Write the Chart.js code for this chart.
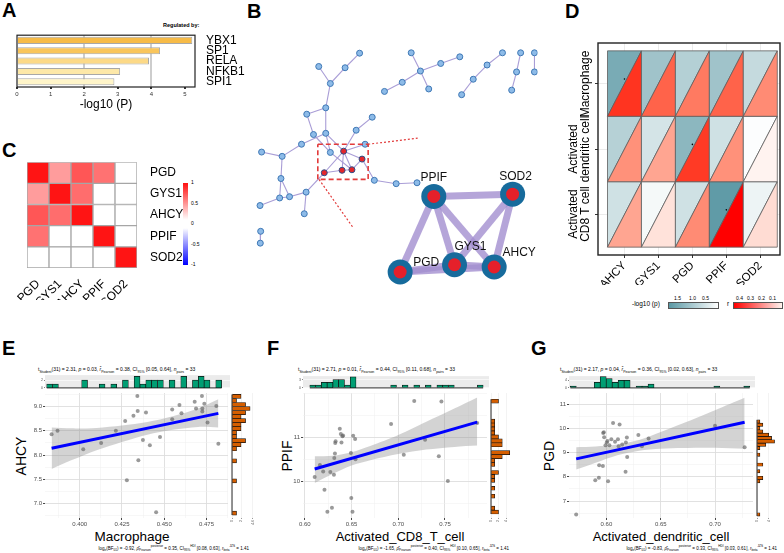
<!DOCTYPE html>
<html>
<head>
<meta charset="utf-8">
<title>Figure</title>
<script src="https://cdn.jsdelivr.net/npm/chart.js@4.4.0/dist/chart.umd.min.js"></script>
<style>
  body { margin:0; width:784px; height:553px; position:relative; overflow:hidden; background:#fff;
         font-family:'Liberation Sans', Arial, sans-serif; color:#000; }
  canvas { position:absolute; }
  .t { position:absolute; white-space:nowrap; line-height:1; }
  .pl { position:absolute; font-weight:bold; font-size:20px; line-height:1; }
  .sm sub, .sm sup { font-size:70%; line-height:0; }
  .rot { position:absolute; text-align:center; transform:rotate(-90deg); white-space:nowrap; }
</style>
</head>
<body>
<div class="pl" style="left:2px;top:0px">A</div>
<div class="pl" style="left:247px;top:1px">B</div>
<div class="pl" style="left:2px;top:140px">C</div>
<div class="pl" style="left:565px;top:1px">D</div>
<div class="pl" style="left:2px;top:338px">E</div>
<div class="pl" style="left:267px;top:338px">F</div>
<div class="pl" style="left:531px;top:338px">G</div>

<div class="t" style="left:163px;top:23px;font-size:5.5px;font-weight:bold">Regulated by:</div>

<!-- C colour bar -->
<div style="position:absolute;left:183px;top:183px;width:5px;height:82px;background:linear-gradient(#ff1010,#fff 45%,#fff 55%,#0000ff)"></div>
<div class="t" style="left:191px;top:180px;font-size:5px">1</div>
<div class="t" style="left:191px;top:201px;font-size:5px">0.5</div>
<div class="t" style="left:191px;top:221px;font-size:5px">0</div>
<div class="t" style="left:191px;top:242px;font-size:5px">-0.5</div>
<div class="t" style="left:191px;top:262px;font-size:5px">-1</div>

<!-- D legend -->
<div class="t" style="left:632px;top:301px;font-size:6.5px">-log10 (p)</div>
<div style="position:absolute;left:668px;top:302px;width:49px;height:5px;border:0.5px solid #555;background:linear-gradient(to right,#5a98a4,#ffffff)"></div>
<div class="t" style="left:674px;top:296px;font-size:5px">1.5</div>
<div class="t" style="left:689px;top:296px;font-size:5px">1.0</div>
<div class="t" style="left:702px;top:296px;font-size:5px">0.5</div>
<div class="t" style="left:727px;top:301px;font-size:6.5px">r</div>
<div style="position:absolute;left:733px;top:302px;width:48px;height:5px;border:0.5px solid #555;background:linear-gradient(to right,#ff0000,#fff4ef)"></div>
<div class="t" style="left:736px;top:296px;font-size:5px">0.4</div>
<div class="t" style="left:747px;top:296px;font-size:5px">0.3</div>
<div class="t" style="left:758px;top:296px;font-size:5px">0.2</div>
<div class="t" style="left:769px;top:296px;font-size:5px">0.1</div>

<!-- E/F/G texts -->
<div class="t sm" style="left:38px;top:367px;font-size:5px">t<sub>Student</sub>(31) = 2.31, <i>p</i> = 0.03, <i>r&#770;</i><sub>Pearson</sub> = 0.38, CI<sub>95%</sub> [0.05, 0.64], <i>n</i><sub>pairs</sub> = 33</div>
<div class="t sm" style="left:298px;top:367px;font-size:5px">t<sub>Student</sub>(31) = 2.71, <i>p</i> = 0.01, <i>r&#770;</i><sub>Pearson</sub> = 0.44, CI<sub>95%</sub> [0.11, 0.68], <i>n</i><sub>pairs</sub> = 33</div>
<div class="t sm" style="left:560px;top:367px;font-size:5px">t<sub>Student</sub>(31) = 2.17, <i>p</i> = 0.04, <i>r&#770;</i><sub>Pearson</sub> = 0.36, CI<sub>95%</sub> [0.02, 0.63], <i>n</i><sub>pairs</sub> = 33</div>

<div class="t sm" style="right:535px;top:546px;font-size:4.5px">log<sub>e</sub>(BF<sub>01</sub>) = -0.92, <i>&rho;&#770;</i><sub>Pearson</sub><sup>posterior</sup> = 0.35, CI<sub>95%</sub><sup>HDI</sup> [0.08, 0.63], <i>r</i><sub>beta</sub><sup>JZS</sup> = 1.41</div>
<div class="t sm" style="right:275px;top:546px;font-size:4.5px">log<sub>e</sub>(BF<sub>01</sub>) = -1.65, <i>&rho;&#770;</i><sub>Pearson</sub><sup>posterior</sup> = 0.40, CI<sub>95%</sub><sup>HDI</sup> [0.10, 0.65], <i>r</i><sub>beta</sub><sup>JZS</sup> = 1.41</div>
<div class="t sm" style="right:7px;top:546px;font-size:4.5px">log<sub>e</sub>(BF<sub>01</sub>) = -0.83, <i>&rho;&#770;</i><sub>Pearson</sub><sup>posterior</sup> = 0.33, CI<sub>95%</sub><sup>HDI</sup> [0.03, 0.61], <i>r</i><sub>beta</sub><sup>JZS</sup> = 1.41</div>

<div class="t" style="left:82px;top:530px;width:100px;text-align:center;font-size:13.5px">Macrophage</div>
<div class="t" style="left:330px;top:530px;width:140px;text-align:center;font-size:13px">Activated_CD8_T_cell</div>
<div class="t" style="left:586px;top:530px;width:150px;text-align:center;font-size:13px">Activated_dendritic_cell</div>
<div class="rot" style="left:-9px;top:449px;width:60px;font-size:14px;line-height:14px">AHCY</div>
<div class="rot" style="left:257px;top:449px;width:60px;font-size:14px;line-height:14px">PPIF</div>
<div class="rot" style="left:519px;top:449px;width:60px;font-size:14px;line-height:14px">PGD</div>

<script>
// ---------- data ----------
// A: enriched regulators
const tfGenes = ['YBX1', 'SP1', 'RELA', 'NFKB1', 'SPI1'];
const tfLogP = [5.22, 4.26, 3.93, 3.07, 2.90];
const tfColors = ['#f7bb47', '#f9c55b', '#fcd987', '#fde8a8', '#fff5c9'];
const tfTicks = [0, 1, 2, 3, 4, 5];

// B: network layout (page coordinates)
const netX = [357, 341.3, 312.7, 325.3, 320.3, 299.7, 307, 320.3, 370.7, 353.3, 294, 250.7, 273, 325.3, 339.7, 363, 359.7, 318.7, 338, 348.7, 373,
  271.7, 270.3, 281, 299, 249, 297, 249.7, 249.3, 396.7, 419.3,
  413, 423, 445, 465.7, 432, 403.3, 384, 512, 495.3, 480.3, 467.7, 531.7, 527.3, 522, 546.7, 546.7];
const netY = [42.7, 58.7, 57.3, 76, 102.7, 109.7, 132, 130.7, 113, 127.3, 142.7, 151.3, 156, 151.7, 150.3, 142.7, 159, 174, 171.3, 170.7, 182.3,
  180.3, 201.7, 200.3, 195.3, 210, 219, 238.3, 251.3, 186, 185,
  42.3, 62.3, 54, 46.7, 82, 74.7, 84.7, 42.3, 55.7, 71.3, 88.3, 42.3, 63.3, 83.3, 42.3, 63.3];
const netRed = [14, 16, 17, 18, 19];
const netEdges = [[0,1],[1,3],[2,3],[3,4],[4,5],[4,7],[5,6],[6,13],[7,13],[7,14],[10,7],[10,12],[11,12],[12,21],
  [21,22],[21,23],[22,23],[22,25],[23,24],[24,26],[24,17],[17,14],[17,18],[14,18],[14,19],[14,16],[14,15],[14,9],
  [9,8],[16,19],[18,19],[13,19],[16,20],[20,29],[29,30],[27,28],
  [31,32],[32,33],[33,34],[32,35],[32,36],[36,37],[38,39],[39,40],[40,41],[42,43],[43,44],[45,46]];
const zoomBox = [311.7, 142.7, 366.3, 181.3];
const hubGenes = ['PPIF', 'SOD2', 'GYS1', 'AHCY', 'PGD'];
const hubX = [437.5, 523, 460, 503, 401];
const hubY = [200, 197.5, 275, 277.5, 283];
const hubEdges = [[0,1],[0,4],[0,2],[0,3],[1,2],[1,3],[4,2],[2,3],[4,3]];

// C: correlation matrix
const corrGenes = ['PGD', 'GYS1', 'AHCY', 'PPIF', 'SOD2'];
const corrMatrix = [
  [1.00, 0.42, 0.72, 0.60, 0.00],
  [0.42, 1.00, 0.62, 0.00, 0.00],
  [0.72, 0.62, 1.00, 0.00, 0.00],
  [0.60, 0.00, 0.00, 1.00, 0.00],
  [0.00, 0.00, 0.00, 0.00, 1.00]];

// D: immune cell correlation (rows bottom to top)
const cellTypes = [['Activated', 'CD8 T cell'], ['Activated', 'dendritic cell'], ['', 'Macrophage']];
const dGenes = ['AHCY', 'GYS1', 'PGD', 'PPIF', 'SOD2'];
const negLogP = [
  [0.57, 0.12, 0.58, 1.90, 0.21],
  [0.88, 0.52, 1.38, 0.58, 0.03],
  [1.60, 1.14, 0.90, 1.14, 0.70]];
const corrR = [
  [0.155, 0.05, 0.20, 0.44, 0.06],
  [0.19, 0.155, 0.34, 0.19, 0.02],
  [0.35, 0.27, 0.23, 0.27, 0.20]];
const sigCol = [0, 2, 3], sigRow = [2, 1, 0];

// E: Macrophage vs AHCY
const macX = [0.3834, 0.3869, 0.4021, 0.4127, 0.4214, 0.4269, 0.4279, 0.4318, 0.4341, 0.4343, 0.4347, 0.4374, 0.4392, 0.4415, 0.4452,
  0.4475, 0.4547, 0.4547, 0.4590, 0.4602, 0.4680, 0.4688, 0.4723, 0.4725, 0.4725, 0.4737, 0.4756, 0.4808, 0.4820];
const ahcyY = [8.43, 8.50, 8.12, 8.25, 8.50, 8.70, 7.48, 8.81, 9.22, 8.91, 7.89, 8.31, 8.88, 8.20, 6.82,
  8.37, 8.74, 8.94, 9.03, 8.86, 9.10, 8.96, 9.22, 8.96, 8.90, 9.06, 8.67, 9.01, 8.23];
const eFitX = [0.3834, 0.4820], eFitY = [8.14, 8.86];
const eCiX = [0.3834, 0.395, 0.41, 0.425, 0.44, 0.455, 0.47, 0.4820];
const eCiHi = [8.57, 8.55, 8.56, 8.61, 8.68, 8.80, 8.96, 9.15];
const eCiLo = [7.71, 7.89, 8.10, 8.27, 8.42, 8.52, 8.58, 8.57];
const eTopCounts = [1,1,0,0,0,0,2,0,0,1, 0,1,0,2,0,3,1,2,2,2, 0,2,0,3,0,2,3,2,0,2];
const eRightCounts = [1,0,0,0,0,0,0,0,1,0, 0,0,0,1,0,0,1,2,3,1, 1,2,2,3,2,3,4,3,1,2];
const eXTicks = [0.400, 0.425, 0.450, 0.475], eYTicks = [7.0, 7.5, 8.0, 8.5, 9.0];

// F: Activated CD8 T cell vs PPIF
const cd8X = [0.6105, 0.6161, 0.6196, 0.6210, 0.6241, 0.6273, 0.6290, 0.6311, 0.6315, 0.6322, 0.6325, 0.6329, 0.6374, 0.6385, 0.6392,
  0.6402, 0.6409, 0.6493, 0.6497, 0.6510, 0.6517, 0.6538, 0.6542, 0.6923, 0.7059, 0.7171, 0.7287, 0.7434, 0.7462, 0.7531, 0.7845];
const ppifY = [10.10, 10.37, 10.22, 9.81, 9.31, 10.21, 9.40, 10.15, 10.53, 10.63, 10.87, 10.91, 11.19, 11.07, 10.88,
  11.02, 11.04, 10.64, 9.62, 9.31, 11.03, 10.96, 10.50, 11.30, 10.60, 11.82, 10.94, 10.57, 11.81, 10.01, 11.32];
const fFitX = [0.6105, 0.7845], fFitY = [10.28, 11.34];
const fCiX = [0.6105, 0.63, 0.65, 0.67, 0.70, 0.73, 0.76, 0.7845];
const fCiHi = [10.57, 10.58, 10.66, 10.80, 11.05, 11.35, 11.65, 11.90];
const fCiLo = [9.96, 10.17, 10.36, 10.48, 10.62, 10.72, 10.78, 10.81];
const fTopCounts = [1,1,2,2,3,3,1,4,0,0, 0,0,0,0,1,0,1,0,1,0, 1,0,1,1,1,0,0,0,0,1];
const fRightCounts = [2,1,0,0,1,0,1,0,1,1, 2,0,1,1,3,5,0,3,3,2, 1,1,1,1,0,0,0,0,2];
const fXTicks = [0.60, 0.65, 0.70, 0.75], fYTicks = [10, 11];

// G: Activated dendritic cell vs PGD
const dcX = [0.5721, 0.5897, 0.5930, 0.5933, 0.5967, 0.5970, 0.5976, 0.5979, 0.5991, 0.6003, 0.6009, 0.6015, 0.6027, 0.6045, 0.6061,
  0.6079, 0.6106, 0.6112, 0.6121, 0.6145, 0.6176, 0.6179, 0.6188, 0.6191, 0.6294, 0.6327, 0.6388, 0.7000, 0.7273];
const pgdY = [6.44, 7.86, 7.96, 8.48, 8.45, 9.81, 9.84, 9.63, 9.30, 9.42, 9.48, 7.82, 9.30, 9.55, 10.22,
  9.45, 9.55, 9.26, 10.16, 9.33, 8.21, 9.42, 9.62, 8.82, 9.73, 9.26, 9.58, 10.11, 9.22];
const gFitX = [0.5721, 0.7273], gFitY = [8.74, 10.25];
const gCiX = [0.5721, 0.59, 0.61, 0.63, 0.65, 0.67, 0.70, 0.7273];
const gCiHi = [9.22, 9.25, 9.33, 9.52, 9.85, 10.20, 10.75, 11.26];
const gCiLo = [8.30, 8.58, 8.89, 9.08, 9.16, 9.19, 9.20, 9.16];
const gTopCounts = [1,0,0,0,3,6,5,3,4,4, 0,1,1,2,0,0,0,0,0,0, 0,0,0,0,1,0,0,0,0,1];
const gRightCounts = [1,0,0,0,0,0,0,0,0,0, 1,2,0,1,0,2,0,0,1,0, 1,3,6,5,4,2,1,2,1];
const gXTicks = [0.60, 0.65, 0.70], gYTicks = [7, 8, 9, 10, 11];

// ---------- helpers ----------
Chart.defaults.font.family = "'Liberation Sans', Arial, sans-serif";
Chart.defaults.color = '#000';
Chart.defaults.animation = false;
Chart.defaults.plugins.legend.display = false;
Chart.defaults.plugins.tooltip.enabled = false;

function mkCanvas(x, y, w, h) {
  const c = document.createElement('canvas');
  c.width = w; c.height = h;
  c.style.left = x + 'px'; c.style.top = y + 'px';
  c.style.width = w + 'px'; c.style.height = h + 'px';
  document.body.appendChild(c);
  return c;
}
const fit = n => s => { if (s.isHorizontal()) s.height = n; else s.width = n; };
const zip = (xs, ys) => xs.map((x, i) => ({x, y: ys[i]}));
const setTicks = vals => ax => { ax.ticks = vals.map(v => ({value: v})); };
const frame = (color, lw) => ({
  id: 'frame',
  afterDatasetsDraw(chart) {
    const {ctx, chartArea: a} = chart;
    ctx.save(); ctx.strokeStyle = color; ctx.lineWidth = lw;
    ctx.strokeRect(a.left, a.top, a.right - a.left, a.bottom - a.top);
    ctx.restore();
  }
});
const panelBg = color => ({
  id: 'panelBg',
  beforeDraw(chart) {
    const {ctx, chartArea: a} = chart;
    ctx.save(); ctx.fillStyle = color;
    ctx.fillRect(a.left, a.top, a.right - a.left, a.bottom - a.top);
    ctx.restore();
  }
});
function tickSet(step, min, max) {
  const half = step / 2, out = [];
  for (let k = Math.ceil(min / half - 1e-9); k * half <= max + 1e-9; k++) out.push(+(k * half).toFixed(6));
  return out;
}
const isMajor = (v, major) => major.some(m => Math.abs(m - v) < 1e-6);

// ---------- A ----------
new Chart(mkCanvas(0, 25, 245, 87), {
  type: 'bar',
  data: {labels: tfGenes, datasets: [{data: tfLogP, backgroundColor: tfColors, borderColor: '#a8a8a8',
    borderWidth: 1, barPercentage: 0.68, categoryPercentage: 1}]},
  options: {
    responsive: false, indexAxis: 'y',
    layout: {padding: {left: 17, top: 7, right: 0, bottom: 0}},
    scales: {
      x: {min: 0, max: 5.3, afterFit: fit(25), afterBuildTicks: setTicks(tfTicks),
        grid: {color: c => (c.tick && (c.tick.value === 2 || c.tick.value === 4)) ? '#cdcdcd' : 'rgba(0,0,0,0)',
          lineWidth: 2, tickLength: 2, tickColor: '#333'},
        border: {display: false},
        ticks: {font: {size: 6}, color: '#333', padding: 2},
        title: {display: true, text: '-log10 (P)', font: {size: 12}, padding: 0}},
      y: {position: 'right', afterFit: fit(50), grid: {display: false}, border: {display: false},
        ticks: {font: {size: 12}, color: '#000', padding: 3, autoSkip: false}}
    }
  },
  plugins: [frame('#222', 1.2)]
});

// ---------- B ----------
const bSets = [];
netEdges.forEach(([a, b]) => bSets.push({type: 'line', data: [{x: netX[a], y: netY[a]}, {x: netX[b], y: netY[b]}],
  borderColor: '#a99dd6', borderWidth: 1.1, pointRadius: 0, order: 6}));
bSets.push({data: zip(netX, netY), pointRadius: 3,
  pointBackgroundColor: c => netRed.includes(c.dataIndex) ? '#e3262b' : '#8dbbe8',
  pointBorderColor: c => netRed.includes(c.dataIndex) ? '#2d4f8a' : '#3f78b5', pointBorderWidth: 1, order: 5});
const [bx0, by0, bx1, by1] = zoomBox;
bSets.push({type: 'line', data: [{x: bx0, y: by0}, {x: bx1, y: by0}, {x: bx1, y: by1}, {x: bx0, y: by1}, {x: bx0, y: by0}],
  borderColor: '#e23b3b', borderWidth: 1.6, borderDash: [5, 3], pointRadius: 0, order: 4});
bSets.push({type: 'line', data: [{x: bx1, y: by0}, {x: 420, y: 136}], borderColor: '#e23b3b', borderWidth: 1.2,
  borderDash: [2, 2], pointRadius: 0, order: 4});
bSets.push({type: 'line', data: [{x: bx0 + 1.3, y: by1}, {x: 349.3, y: 233.3}], borderColor: '#e23b3b', borderWidth: 1.2,
  borderDash: [2, 2], pointRadius: 0, order: 4});
hubEdges.forEach(([a, b]) => bSets.push({type: 'line', data: [{x: hubX[a], y: hubY[a]}, {x: hubX[b], y: hubY[b]}],
  borderColor: 'rgba(163,143,207,0.8)', borderWidth: 7, pointRadius: 0, order: 3}));
bSets.push({data: zip(hubX, hubY), pointRadius: 12.5, pointBackgroundColor: '#176b9c', pointBorderWidth: 0, order: 2});
bSets.push({data: zip(hubX, hubY), pointRadius: 6.5, pointBackgroundColor: '#e5202a', pointBorderWidth: 0, order: 1});
const hubLabelOff = [[0, -19], [3, -17], [16, -18], [25, -14], [26, -9]];
new Chart(mkCanvas(230, 20, 320, 280), {
  type: 'scatter',
  data: {datasets: bSets},
  options: {
    responsive: false, layout: {padding: 0},
    scales: {x: {min: 230, max: 550, display: false}, y: {min: 20, max: 300, reverse: true, display: false}}
  },
  plugins: [{
    id: 'hubLabels',
    afterDatasetsDraw(chart) {
      const {ctx, scales: {x, y}} = chart;
      ctx.save(); ctx.font = "12px 'Liberation Sans', Arial, sans-serif"; ctx.fillStyle = '#111';
      ctx.textAlign = 'center'; ctx.textBaseline = 'middle';
      hubGenes.forEach((g, i) => ctx.fillText(g, x.getPixelForValue(hubX[i]) + hubLabelOff[i][0],
        y.getPixelForValue(hubY[i]) + hubLabelOff[i][1]));
      ctx.restore();
    }
  }]
});

// ---------- C ----------
const heatRed = v => { const g = Math.round(255 - Math.max(0, v) * 235); return `rgb(255,${g},${g})`; };
new Chart(mkCanvas(10, 150, 175, 150), {
  type: 'bar',
  data: {labels: corrGenes, datasets: [4, 3, 2, 1, 0].map(k => ({
    data: corrGenes.map(() => 1), backgroundColor: corrMatrix[k].map(heatRed),
    borderColor: '#a6a6a6', borderWidth: 1, borderSkipped: false, barPercentage: 1, categoryPercentage: 1}))},
  options: {
    responsive: false,
    layout: {padding: {left: 17, top: 9, right: 0, bottom: 0}},
    scales: {
      x: {stacked: true, afterFit: fit(32), grid: {display: false}, border: {display: false},
        ticks: {font: {size: 12}, color: '#000', minRotation: 45, maxRotation: 45, padding: 1, autoSkip: false}},
      y: {stacked: true, position: 'right', min: 0, max: 5, afterFit: fit(48),
        afterBuildTicks: setTicks([0.5, 1.5, 2.5, 3.5, 4.5]),
        grid: {display: false}, border: {display: false},
        ticks: {font: {size: 12}, color: '#000', padding: 5, autoSkip: false, callback: v => corrGenes[4 - Math.floor(v)]}}
    }
  }
});

// ---------- D ----------
const mix = (a, b, f) => a.map((v, i) => Math.round(v + (b[i] - v) * f));
const blueCol = v => { const c = mix([255, 255, 255], [88, 150, 162], Math.min(1, v / 2)); return `rgb(${c})`; };
const redCol = v => { const f = Math.min(1, v / 0.44); return `rgb(255,${Math.round(255 * (1 - f))},${Math.round(255 * Math.pow(1 - f, 1.3))})`; };
const dChart = new Chart(mkCanvas(590, 35, 194, 250), {
  type: 'scatter',
  data: {datasets: [{data: zip(sigCol.map(c => c + 0.5), sigRow.map(r => r + 0.57)), pointRadius: 0.8,
    pointBackgroundColor: '#000', pointBorderWidth: 0}]},
  options: {
    responsive: false,
    layout: {padding: {left: 0, top: 8, right: 3, bottom: 0}},
    scales: {
      x: {min: -0.28, max: 5.08, afterFit: fit(30), afterBuildTicks: setTicks([0.5, 1.5, 2.5, 3.5, 4.5]),
        grid: {color: '#ebebeb', tickLength: 3, tickColor: '#333'}, border: {display: false},
        ticks: {font: {size: 11.5}, color: '#000', minRotation: 45, maxRotation: 45, padding: 1, autoSkip: false,
          callback: v => dGenes[Math.floor(v)]}},
      y: {min: -0.12, max: 3.12, afterFit: fit(8), afterBuildTicks: setTicks([0.5, 1.5, 2.5]),
        grid: {color: '#ebebeb', tickLength: 3, tickColor: '#333'}, border: {display: false},
        ticks: {callback: () => '', padding: 0}}
    }
  },
  plugins: [{
    id: 'triangles',
    beforeDatasetsDraw(chart) {
      const {ctx, scales: {x, y}} = chart;
      const tri = (pts, fill) => {
        ctx.beginPath(); ctx.moveTo(pts[0][0], pts[0][1]);
        pts.slice(1).forEach(p => ctx.lineTo(p[0], p[1])); ctx.closePath();
        ctx.fillStyle = fill; ctx.fill(); ctx.stroke();
      };
      ctx.save(); ctx.strokeStyle = '#5e5e5e'; ctx.lineWidth = 0.8;
      negLogP.forEach((row, r) => row.forEach((v, c) => {
        const x0 = x.getPixelForValue(c), x1 = x.getPixelForValue(c + 1);
        const y0 = y.getPixelForValue(r), y1 = y.getPixelForValue(r + 1);
        tri([[x0, y0], [x0, y1], [x1, y1]], blueCol(v));
        tri([[x0, y0], [x1, y0], [x1, y1]], redCol(corrR[r][c]));
      }));
      ctx.restore();
    }
  }, frame('#222', 1.4)]
});
cellTypes.forEach((lines, r) => {
  const cy = 35 + dChart.scales.y.getPixelForValue(r + 0.5);
  const d = document.createElement('div');
  d.className = 'rot';
  d.style.cssText = `left:${579 - 50}px;top:${cy - 12}px;width:100px;height:24px;font-size:12px;line-height:12px`;
  d.innerHTML = lines.map(s => s || '&nbsp;').join('<br>');
  document.body.appendChild(d);
});

// ---------- E/F/G ----------
function scatterPanel(p) {
  const [l, t, r, b] = p.area;
  const W = r - l, H = b - t;
  const xAll = tickSet(p.xStep, p.xMin, p.xMax), yAll = tickSet(p.yStep, p.yMin, p.yMax);
  const gridOpt = major => ({
    color: c => (c.tick && isMajor(c.tick.value, major)) ? '#dedede' : '#eeeeee',
    lineWidth: c => (c.tick && isMajor(c.tick.value, major)) ? 0.9 : 0.5,
    tickColor: c => (c.tick && isMajor(c.tick.value, major)) ? '#333' : 'rgba(0,0,0,0)',
    tickLength: 2
  });
  new Chart(mkCanvas(l - 22, t - 5, W + 24, H + 20), {
    type: 'scatter',
    data: {datasets: [
      {type: 'line', data: zip(p.ciX, p.ciHi), borderWidth: 0, pointRadius: 0, fill: '+1',
        backgroundColor: 'rgba(150,150,150,0.42)', tension: 0.3, order: 3},
      {type: 'line', data: zip(p.ciX, p.ciLo), borderWidth: 0, pointRadius: 0, fill: false, tension: 0.3, order: 3},
      {data: zip(p.x, p.y), pointRadius: 2, pointBackgroundColor: 'rgba(100,100,100,0.65)', pointBorderWidth: 0, order: 2},
      {type: 'line', data: zip(p.fitX, p.fitY), borderColor: '#0000ff', borderWidth: 3, pointRadius: 0, order: 1}
    ]},
    options: {
      responsive: false,
      layout: {padding: {left: 0, top: 5, right: 2, bottom: 0}},
      scales: {
        x: {type: 'linear', min: p.xMin, max: p.xMax, afterFit: fit(15), afterBuildTicks: setTicks(xAll),
          grid: gridOpt(p.xTicks), border: {display: false},
          ticks: {font: {size: 6}, color: '#4d4d4d', padding: 1, maxRotation: 0, autoSkip: false,
            callback: v => isMajor(v, p.xTicks) ? v.toFixed(p.xDig) : ''}},
        y: {min: p.yMin, max: p.yMax, afterFit: fit(22), afterBuildTicks: setTicks(yAll),
          grid: gridOpt(p.yTicks), border: {display: false},
          ticks: {font: {size: 6}, color: '#4d4d4d', padding: 1, autoSkip: false,
            callback: v => isMajor(v, p.yTicks) ? v.toFixed(p.yDig) : ''}}
      }
    }
  });

  // top marginal histogram
  const [tt, tb] = p.topArea;
  const tEnd = p.topStart + p.topCounts.length * p.topW;
  new Chart(mkCanvas(l - 22, tt - 3, W + 24, tb - tt + 5), {
    type: 'bar',
    data: {datasets: [{data: p.topCounts.map((c, i) => ({x: p.topStart + (i + 0.5) * p.topW, y: c})),
      backgroundColor: '#009E73', borderColor: '#111', borderWidth: 0.7, barPercentage: 1, categoryPercentage: 1}]},
    options: {
      responsive: false,
      layout: {padding: {left: 0, top: 3, right: 2, bottom: 2}},
      scales: {
        x: {type: 'linear', offset: false, min: p.xMin, max: p.xMax, display: false, grid: {offset: false}},
        y: {min: 0, max: p.topMax, afterFit: fit(22), border: {display: false},
          grid: {color: '#ffffff', lineWidth: 0.6, tickLength: 1, tickColor: '#333'},
          ticks: {font: {size: 3.5}, color: '#4d4d4d', padding: 1, stepSize: p.topStep}}
      }
    },
    plugins: [panelBg('#ebebeb'), {
      id: 'base',
      afterDatasetsDraw(chart) {
        const {ctx, scales: {x, y}} = chart;
        ctx.save(); ctx.strokeStyle = '#111'; ctx.lineWidth = 0.9; ctx.beginPath();
        ctx.moveTo(x.getPixelForValue(p.topStart), y.getPixelForValue(0));
        ctx.lineTo(x.getPixelForValue(tEnd), y.getPixelForValue(0)); ctx.stroke(); ctx.restore();
      }
    }]
  });

  // right marginal histogram
  const [rl, rr] = p.rightArea;
  const rEnd = p.rightStart + p.rightCounts.length * p.rightW;
  new Chart(mkCanvas(rl - 2, t - 5, rr - rl + 7, H + 20), {
    type: 'bar',
    data: {datasets: [{data: p.rightCounts.map((c, i) => ({y: p.rightStart + (i + 0.5) * p.rightW, x: c})),
      backgroundColor: '#D55E00', borderColor: '#111', borderWidth: 0.7, barPercentage: 1, categoryPercentage: 1}]},
    options: {
      indexAxis: 'y', responsive: false,
      layout: {padding: {left: 2, top: 5, right: 5, bottom: 0}},
      scales: {
        y: {type: 'linear', offset: false, min: p.yMin, max: p.yMax, display: false, grid: {offset: false}},
        x: {type: 'linear', min: 0, max: p.rightMax, afterFit: fit(15), border: {display: false},
          grid: {color: '#e6e6e6', lineWidth: 0.5, tickLength: 1, tickColor: '#333'},
          ticks: {font: {size: 3.5}, color: '#4d4d4d', stepSize: p.rightStep, minRotation: 90, maxRotation: 90, padding: 1}}
      }
    },
    plugins: [{
      id: 'base',
      afterDatasetsDraw(chart) {
        const {ctx, scales: {x, y}} = chart;
        ctx.save(); ctx.strokeStyle = '#111'; ctx.lineWidth = 0.9; ctx.beginPath();
        ctx.moveTo(x.getPixelForValue(0), y.getPixelForValue(p.rightStart));
        ctx.lineTo(x.getPixelForValue(0), y.getPixelForValue(rEnd)); ctx.stroke(); ctx.restore();
      }
    }]
  });
}

scatterPanel({
  area: [45, 393, 230, 518], topArea: [375, 389], rightArea: [232, 253],
  xMin: 0.3795, xMax: 0.4877, yMin: 6.70, yMax: 9.28, xStep: 0.025, yStep: 0.5, xDig: 3, yDig: 1,
  xTicks: eXTicks, yTicks: eYTicks, x: macX, y: ahcyY, fitX: eFitX, fitY: eFitY, ciX: eCiX, ciHi: eCiHi, ciLo: eCiLo,
  topCounts: eTopCounts, topStart: 0.3805, topW: 0.00341, topMax: 3.3, topStep: 1,
  rightCounts: eRightCounts, rightStart: 6.76, rightW: 0.083, rightMax: 4.6, rightStep: 1
});
scatterPanel({
  area: [303, 393, 489, 518], topArea: [376, 389], rightArea: [491, 512],
  xMin: 0.598, xMax: 0.795, yMin: 9.17, yMax: 12.0, xStep: 0.05, yStep: 1, xDig: 2, yDig: 0,
  xTicks: fXTicks, yTicks: fYTicks, x: cd8X, y: ppifY, fitX: fFitX, fitY: fFitY, ciX: fCiX, ciHi: fCiHi, ciLo: fCiLo,
  topCounts: fTopCounts, topStart: 0.6052, topW: 0.00612, topMax: 4.3, topStep: 1,
  rightCounts: fRightCounts, rightStart: 9.26, rightW: 0.0896, rightMax: 5.6, rightStep: 1
});
scatterPanel({
  area: [569, 393, 755, 518], topArea: [376, 389], rightArea: [757, 776],
  xMin: 0.5655, xMax: 0.735, yMin: 6.3, yMax: 11.46, xStep: 0.05, yStep: 1, xDig: 2, yDig: 0,
  xTicks: gXTicks, yTicks: gYTicks, x: dcX, y: pgdY, fitX: gFitX, fitY: gFitY, ciX: gCiX, ciHi: gCiHi, ciLo: gCiLo,
  topCounts: gTopCounts, topStart: 0.5667, topW: 0.00545, topMax: 6.3, topStep: 2,
  rightCounts: gRightCounts, rightStart: 6.38, rightW: 0.137, rightMax: 6.5, rightStep: 2
});
</script>
</body>
</html>
